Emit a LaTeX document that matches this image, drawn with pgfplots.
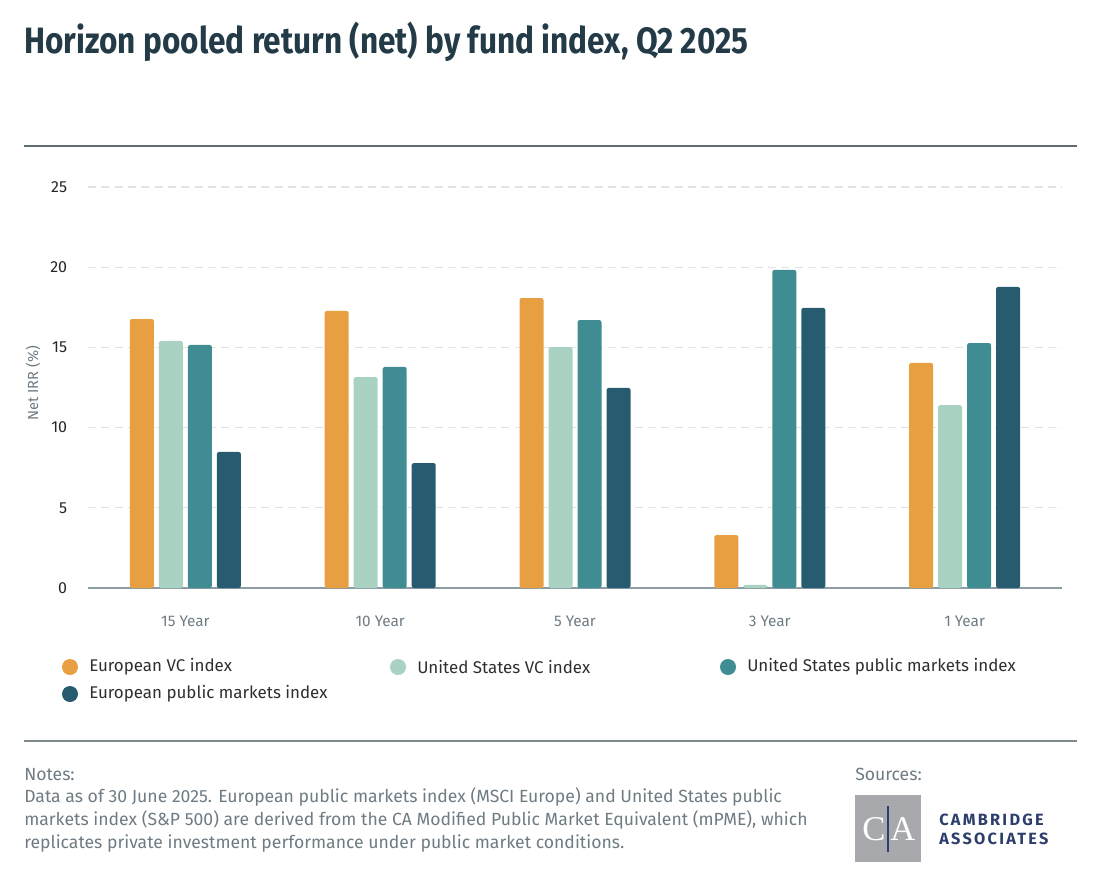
\documentclass[border=0pt]{standalone}
\usepackage{pgfplots}
\pgfplotsset{compat=1.18}
\usepackage{fontspec}
\setmainfont{Fira Sans}[FakeStretch=0.86]
\newfontfamily\plain{Fira Sans}
\newfontfamily\logoserif{Liberation Serif}
\newfontfamily\logosans{Fira Sans}[LetterSpace=14]

\definecolor{euvc}{HTML}{E89F41}
\definecolor{usvc}{HTML}{A9D2C2}
\definecolor{uspm}{HTML}{3F8D93}
\definecolor{eupm}{HTML}{275C70}
\definecolor{titlec}{HTML}{233A47}
\definecolor{greyt}{HTML}{6E7B83}
\definecolor{rulec}{HTML}{5E6B72}
\definecolor{gridc}{HTML}{E3E3E3}
\definecolor{axisc}{HTML}{8E9CA3}
\definecolor{logog}{HTML}{A7A9AC}
\definecolor{navy}{HTML}{2C3E6B}

\begin{document}
\begin{tikzpicture}
% canvas in reference pixels
\begin{scope}[x=0.75pt,y=-0.75pt]
  \path (0,0) rectangle (1110,874);
  \node[anchor=base west,inner sep=0,text=titlec,font=\fontsize{27.5}{30}\selectfont\bfseries] at (24,54) {Horizon pooled return (net) by fund index, Q2 2025};
  \draw[rulec,line width=0.9pt] (24,146) -- (1077,146);
  \draw[rulec!80,line width=0.9pt] (24,741) -- (1077,741);

  % legend
  \foreach \c/\x/\y/\t in {euvc/70/667/European VC index, usvc/398/667/United States VC index, uspm/728/667/United States public markets index, eupm/70/694/European public markets index}{
    \fill[\c] (\x,\y) circle[radius=8];
    \node[anchor=west,inner sep=0,text=black!82,font=\plain\fontsize{12.7}{15}\selectfont] at (\x+19,\y) {\t};
  }

  % notes
  \node[anchor=north west,inner sep=0,text=greyt,align=left,font=\plain\fontsize{13.2}{16.9}\selectfont] at (24,768)
    {Notes:\\Data as of 30 June 2025. European public markets index (MSCI Europe) and United States public\\
     markets index (S\&P 500) are derived from the CA Modified Public Market Equivalent (mPME), which\\
     replicates private investment performance under public market conditions.};
  \node[anchor=north west,inner sep=0,text=greyt,font=\plain\fontsize{13.2}{16.9}\selectfont] at (855,768) {Sources:};

  % logo
  \fill[logog] (855,795) rectangle (921,862);
  \draw[navy,line width=0.8pt] (888,806) -- (888,852);
  \node[text=white,font=\logoserif\fontsize{26}{26}\selectfont,inner sep=0] at (874,829) {C};
  \node[text=white,font=\logoserif\fontsize{26}{26}\selectfont,inner sep=0] at (903,829) {A};
  \node[anchor=west,inner sep=0,text=navy,font=\logosans\fontsize{12.2}{13}\selectfont\bfseries] at (939,820) {CAMBRIDGE};
  \node[anchor=west,inner sep=0,text=navy,font=\logosans\fontsize{12.2}{13}\selectfont\bfseries] at (939,839) {ASSOCIATES};
\end{scope}

\begin{axis}[
  at={(66pt,-441pt)}, anchor=south west,
  scale only axis, width=730.5pt, height=300.75pt,
  xmin=-0.5, xmax=4.5, ymin=0, ymax=25,
  enlargelimits=false, clip=false,
  ybar=3.75pt, bar width=18pt,
  xtick={0,1,2,3,4},
  xticklabels={15 Year,10 Year,5 Year,3 Year,1 Year},
  ytick={0,5,10,15,20,25},
  /pgf/number format/assume math mode=true,
  axis x line=bottom, axis y line=left,
  x axis line style={-,draw=axisc,line width=1.1pt},
  y axis line style={draw=none},
  tick style={draw=none},
  ymajorgrids, grid style={gridc,line width=0.8pt,dash pattern=on 6pt off 4pt},
  yticklabel style={text=black!85,font=\plain\fontsize{12}{14}\selectfont,xshift=-10pt},
  xticklabel style={text=greyt,font=\plain\fontsize{11.5}{14}\selectfont,yshift=-15pt},
  ylabel={Net IRR (\%)},
  every axis y label/.style={at={(axis description cs:-0.0565,0.51)},rotate=90,anchor=center,
    text=greyt,font=\plain\fontsize{11}{12}\selectfont},
  every axis plot/.append style={draw=none,rounded corners=1.6pt},
]
\addplot[fill=euvc] coordinates {(0,16.77) (1,17.27) (2,18.08) (3,3.30) (4,14.03)};
\addplot[fill=usvc] coordinates {(0,15.40) (1,13.15) (2,15.02) (3,0.19) (4,11.40)};
\addplot[fill=uspm] coordinates {(0,15.15) (1,13.78) (2,16.70) (3,19.83) (4,15.27)};
\addplot[fill=eupm] coordinates {(0,8.48) (1,7.79) (2,12.47) (3,17.46) (4,18.77)};
\end{axis}
\end{tikzpicture}
\end{document}
